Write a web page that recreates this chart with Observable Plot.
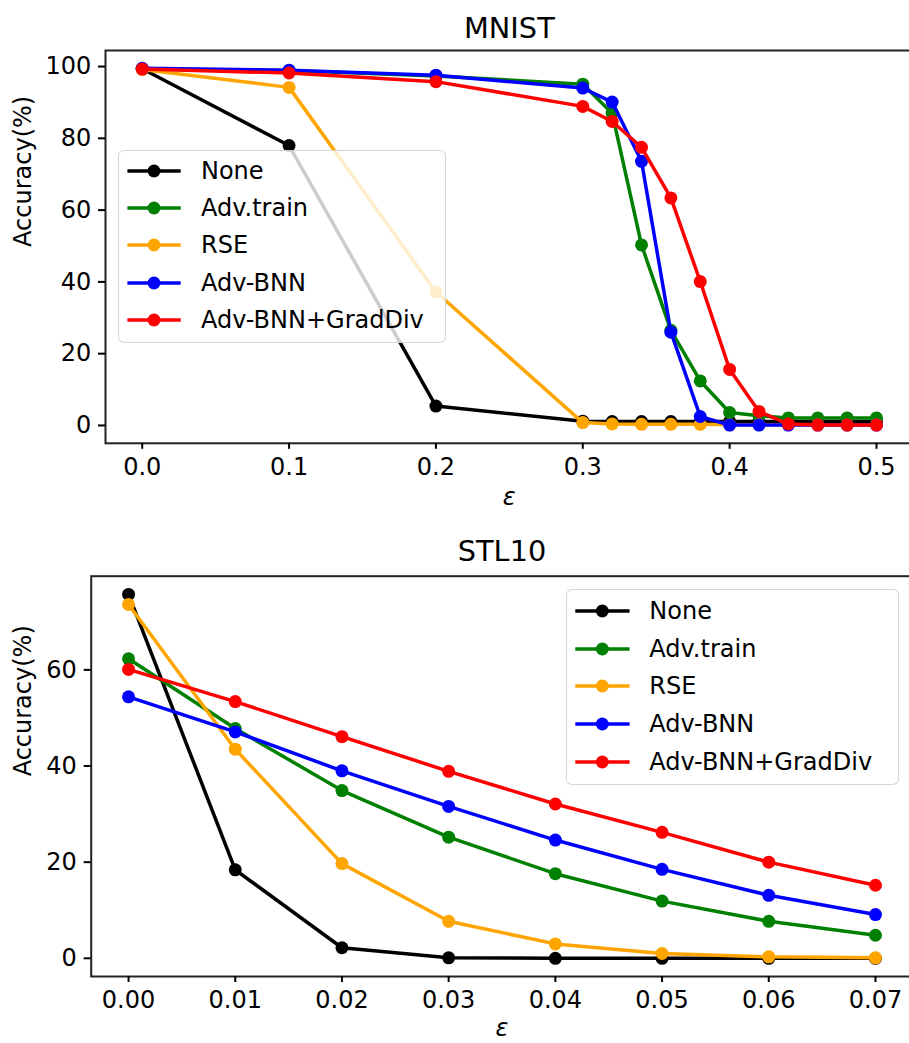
<!DOCTYPE html>
<html><head><meta charset="utf-8">
<script src="https://cdn.jsdelivr.net/npm/d3@7"></script>
<script src="https://cdn.jsdelivr.net/npm/@observablehq/plot@0.6"></script>
<style>
html,body{margin:0;padding:0;overflow:hidden;background:#fff;}
#fig{position:relative;width:909px;height:1043px;font-family:"DejaVu Sans",sans-serif;overflow:hidden;}
.panel{position:absolute;left:0;width:909px;}
.legend{position:absolute;background:rgba(255,255,255,0.8);border:1.5px solid rgba(204,204,204,0.8);border-radius:6px;box-sizing:border-box;font-size:24px;color:#000;font-family:"DejaVu Sans",sans-serif;}
.legend .row{position:absolute;left:0;height:30px;line-height:30px;white-space:nowrap;}
.legend .row svg{position:absolute;left:0;top:0;}
.legend .row span{position:absolute;top:0;}
</style></head><body><div id="fig"></div>
<script>
const seriesNames = ["None", "Adv.train", "RSE", "Adv-BNN", "Adv-BNN+GradDiv"];
const seriesColors = ["#000000", "#008000", "#ffa500", "#0000ff", "#ff0000"];

// MNIST
const mnistEps = [0, 0.1, 0.2, 0.3, 0.32, 0.34, 0.36, 0.38, 0.40, 0.42, 0.44, 0.46, 0.48, 0.50];
const mnistNone    = [99.4, 78.0, 5.4, 1.2, 1.1, 1.1, 1.1, 1.1, 1.1, 1.1, 1.1, 1.1, 1.1, 1.1];
const mnistAdvTrain= [99.3, 98.9, 97.4, 95.1, 87.0, 50.3, 26.5, 12.4, 3.6, 2.7, 2.1, 2.1, 2.1, 2.1];
const mnistRSE     = [99.2, 94.2, 37.2, 0.8, 0.4, 0.3, 0.3, 0.3, 0.2, 0.2, 0.2, 0.2, 0.2, 0.2];
const mnistAdvBNN  = [99.5, 99.0, 97.6, 94.0, 90.1, 73.6, 26.0, 2.5, 0.1, 0.1, 0.1, 0.1, 0.1, 0.1];
const mnistGradDiv = [99.3, 98.2, 95.8, 88.9, 84.7, 77.5, 63.4, 40.1, 15.6, 3.9, 0.4, 0.1, 0.1, 0.1];
const mnistXTicks = [0, 0.1, 0.2, 0.3, 0.4, 0.5];
const mnistYTicks = [0, 20, 40, 60, 80, 100];

// STL10
const stlEps = [0, 0.01, 0.02, 0.03, 0.04, 0.05, 0.06, 0.07];
const stlNone     = [75.7, 18.4, 2.2, 0.1, 0.0, 0.0, 0.0, 0.0];
const stlAdvTrain = [62.3, 47.8, 34.9, 25.2, 17.6, 11.9, 7.7, 4.8];
const stlRSE      = [73.6, 43.5, 19.7, 7.7, 3.0, 1.0, 0.3, 0.1];
const stlAdvBNN   = [54.4, 47.1, 39.0, 31.6, 24.6, 18.5, 13.1, 9.1];
const stlGradDiv  = [60.1, 53.4, 46.1, 38.9, 32.1, 26.2, 20.0, 15.2];
const stlXTicks = [0, 0.01, 0.02, 0.03, 0.04, 0.05, 0.06, 0.07];
const stlYTicks = [0, 20, 40, 60];

function seriesMarks(eps, valuesList) {
  const marks = [];
  valuesList.forEach((vals, i) => {
    const rows = eps.map((e, j) => ({eps: e, acc: vals[j], series: seriesNames[i]}));
    marks.push(Plot.line(rows, {x: "eps", y: "acc", stroke: seriesColors[i], strokeWidth: 3.5}));
    marks.push(Plot.dot(rows, {x: "eps", y: "acc", fill: seriesColors[i], r: 6.5}));
  });
  return marks;
}

function makePanel(cfg) {
  return Plot.plot({
    width: 909, height: cfg.height,
    marginTop: cfg.mt, marginBottom: cfg.mb, marginLeft: cfg.ml, marginRight: cfg.mr,
    style: {fontFamily: "DejaVu Sans", fontSize: "24px", color: "#000", background: "transparent", overflow: "visible"},
    x: {domain: cfg.xdom, label: null},
    y: {domain: cfg.ydom, label: null},
    marks: [
      ...seriesMarks(cfg.eps, cfg.series),
      Plot.frame({stroke: "#222", strokeWidth: 2}),
      Plot.axisX(cfg.xticks, {tickSize: 6, tickPadding: 8.5, tickFormat: d3.format(cfg.xfmt), strokeWidth: 2, label: null, fontSize: 24}),
      Plot.axisY(cfg.yticks, {tickSize: 7, tickPadding: 7.3, strokeWidth: 2, label: null, fontSize: 24}),
      Plot.text([cfg.title], {frameAnchor: "top", dy: cfg.titleDy, fontSize: 28.8, lineAnchor: "middle"}),
      Plot.text(["ε"], {frameAnchor: "bottom", dy: cfg.xlabDy, fontStyle: "italic", fontSize: 24, lineAnchor: "middle"}),
      Plot.text(["Accuracy(%)"], {frameAnchor: "left", dx: cfg.ylabDx, rotate: -90, fontSize: 24, lineAnchor: "middle"})
    ]
  });
}

function makeLegend(box) {
  const lg = document.createElement("div");
  lg.className = "legend";
  Object.assign(lg.style, {left: box.left + "px", top: box.top + "px", width: box.width + "px", height: box.height + "px"});
  seriesNames.forEach((name, i) => {
    const row = document.createElement("div");
    row.className = "row";
    row.style.top = (box.row0 + box.step * i - 15) + "px";
    row.style.width = "100%";
    const c = seriesColors[i];
    row.innerHTML = `<svg width="70" height="30"><line x1="${box.lx1}" x2="${box.lx2}" y1="15" y2="15" stroke="${c}" stroke-width="3.5"/><circle cx="${box.dotx}" cy="15" r="6.5" fill="${c}"/></svg><span style="left:${box.tx}px">${name}</span>`;
    lg.appendChild(row);
  });
  return lg;
}

const fig = document.getElementById("fig");

const p1 = document.createElement("div");
p1.className = "panel"; p1.style.top = "0px";
p1.appendChild(makePanel({
  height: 520, mt: 50, mb: 77.2, ml: 105, mr: -3.7,
  xdom: [-0.025, 0.525], ydom: [-4.975, 104.475],
  eps: mnistEps, series: [mnistNone, mnistAdvTrain, mnistRSE, mnistAdvBNN, mnistGradDiv],
  xticks: mnistXTicks, yticks: mnistYTicks, xfmt: ".1f",
  title: "MNIST", titleDy: -22, xlabDy: 54, ylabDx: -82
}));
fig.appendChild(p1);

const p2 = document.createElement("div");
p2.className = "panel"; p2.style.top = "520px";
p2.appendChild(makePanel({
  height: 523, mt: 55.7, mb: 67, ml: 90.7, mr: -3.3,
  xdom: [-0.0035, 0.0735], ydom: [-3.785, 79.485],
  eps: stlEps, series: [stlNone, stlAdvTrain, stlRSE, stlAdvBNN, stlGradDiv],
  xticks: stlXTicks, yticks: stlYTicks, xfmt: ".2f",
  title: "STL10", titleDy: -24, xlabDy: 52, ylabDx: -67.7
}));
fig.appendChild(p2);

fig.appendChild(makeLegend({left: 118.3, top: 150, width: 327.4, height: 193.3, row0: 20, step: 37.2, lx1: 8.4, lx2: 61.7, dotx: 35, tx: 81.7}));
fig.appendChild(makeLegend({left: 565.7, top: 589, width: 333.3, height: 196, row0: 21, step: 37.7, lx1: 8.3, lx2: 62.6, dotx: 35.3, tx: 82.6}));
</script>
</body></html>
